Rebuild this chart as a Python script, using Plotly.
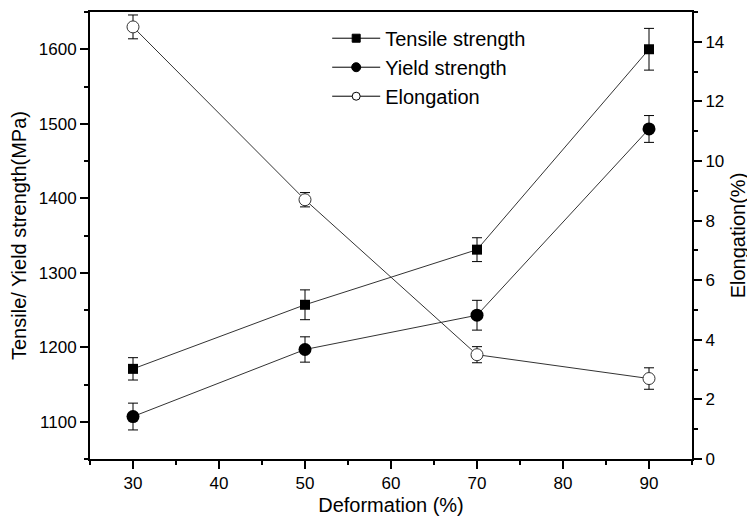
import plotly.graph_objects as go

deformation = [30, 50, 70, 90]
tensile = [1171, 1257, 1331, 1600]
tensile_err = [15, 20, 16, 28]
yield_s = [1107, 1197, 1243, 1493]
yield_err = [18, 17, 20, 18]
elong = [14.5, 8.7, 3.5, 2.7]
elong_err = [0.4, 0.24, 0.27, 0.36]

font = "Liberation Sans, Arial, sans-serif"
line_col = "#333333"

fig = go.Figure()

def eb(arr):
    return dict(type="data", array=arr, color="black", thickness=1, width=5, visible=True)

fig.add_trace(go.Scatter(x=deformation, y=tensile, error_y=eb(tensile_err), mode="lines+markers",
                         line=dict(color=line_col, width=1),
                         marker=dict(symbol="square", size=10, color="black"),
                         showlegend=False, yaxis="y"))
fig.add_trace(go.Scatter(x=deformation, y=yield_s, error_y=eb(yield_err), mode="lines+markers",
                         line=dict(color=line_col, width=1),
                         marker=dict(symbol="circle", size=13, color="black"),
                         showlegend=False, yaxis="y"))
fig.add_trace(go.Scatter(x=deformation, y=elong, error_y=eb(elong_err), mode="lines+markers",
                         line=dict(color=line_col, width=1),
                         marker=dict(symbol="circle", size=12, color="white", line=dict(color=line_col, width=1)),
                         showlegend=False, yaxis="y2"))

# legend entries with smaller markers
for name, sym, col, sz in [("Tensile strength", "square", "black", 8),
                           ("Yield strength", "circle", "black", 9),
                           ("Elongation", "circle", "white", 8)]:
    fig.add_trace(go.Scatter(x=[None], y=[None], name=name, mode="lines+markers",
                             line=dict(color="black", width=1),
                             marker=dict(symbol=sym, size=sz, color=col, line=dict(color="black", width=1)),
                             yaxis="y"))

axis_common = dict(showline=True, linecolor="black", linewidth=2, ticks="outside", ticklen=8,
                   tickwidth=2, tickcolor="black", showgrid=False, zeroline=False, automargin=False,
                   tickfont=dict(family=font, size=17, color="black"))

fig.update_layout(
    width=747, height=513,
    paper_bgcolor="white", plot_bgcolor="white",
    margin=dict(l=82, r=63, t=4, b=62),
    font=dict(family=font, color="black"),
    xaxis=dict(range=[25, 95], tickvals=[30, 40, 50, 60, 70, 80, 90], mirror=True,
               minor=dict(ticks="outside", ticklen=4, tickwidth=2, tickcolor="black", dtick=5, tick0=25),
               title=dict(text="Deformation (%)", font=dict(family=font, size=20), standoff=6),
               **axis_common),
    yaxis=dict(range=[1050, 1650], tickvals=[1100, 1200, 1300, 1400, 1500, 1600],
               minor=dict(ticks="outside", ticklen=4, tickwidth=2, tickcolor="black", dtick=50, tick0=1050),
               title=dict(text="Tensile/ Yield strength(MPa)", font=dict(family=font, size=20), standoff=10),
               **axis_common),
    yaxis2=dict(range=[0, 15], tickvals=[0, 2, 4, 6, 8, 10, 12, 14], overlaying="y", side="right",
                minor=dict(ticks="outside", ticklen=4, tickwidth=2, tickcolor="black", dtick=1, tick0=0),
                title=dict(text="Elongation(%)", font=dict(family=font, size=20), standoff=8),
                **axis_common),
    legend=dict(x=0.394, y=0.985, xanchor="left", yanchor="top", bgcolor="rgba(0,0,0,0)",
                font=dict(family=font, size=20), itemwidth=48, tracegroupgap=0),
)

fig.write_html("out.html")
